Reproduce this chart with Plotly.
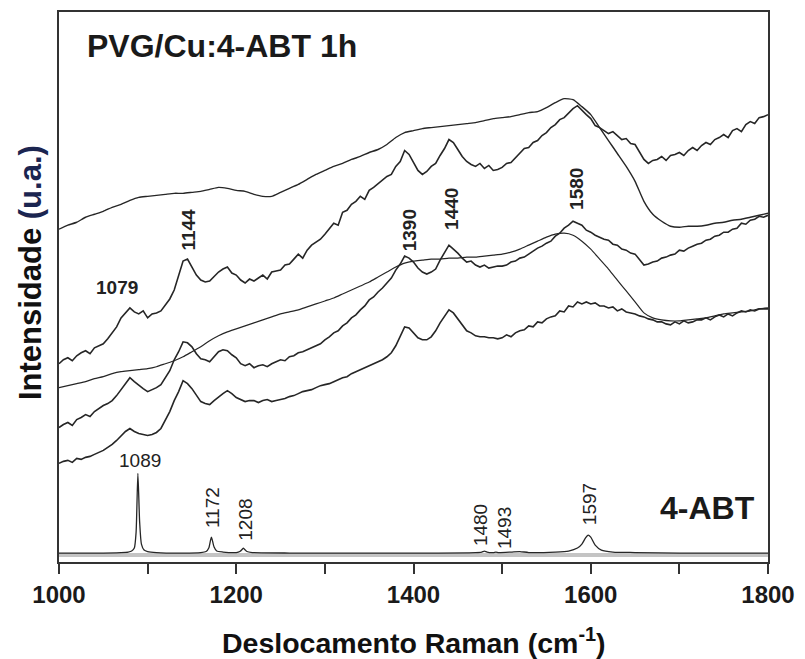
import plotly.graph_objects as go

# Raman shift grids (cm-1)
shift10 = list(range(1000, 1801, 10))
shift5 = list(range(1000, 1801, 5))

# PVG/Cu:4-ABT 1h spectra (arbitrary units, already vertically offset)
spec_a = [334, 338, 341, 346, 349, 352, 356, 359, 363, 366, 367, 368, 369, 370, 370, 371, 372, 374, 376, 375,
          373, 372, 369, 367, 367, 371, 375, 379, 384, 389, 393, 397, 400, 404, 407, 411, 414, 419, 426, 431,
          433, 435, 436, 437, 438, 439, 440, 441, 443, 445, 446, 447, 449, 451, 452, 456, 461, 465, 464, 457,
          449, 436, 423, 410, 397, 382, 362, 349, 342, 337, 336, 337, 337, 338, 340, 341, 343, 344, 346, 348, 350]
spec_b = [199, 203, 205, 202, 207, 210, 212, 209, 215, 217, 219, 224, 230, 236, 245, 250, 255, 251, 249, 252,
          245, 249, 250, 252, 258, 264, 273, 287, 302, 304, 296, 288, 283, 281, 282, 287, 291, 294, 296, 290,
          288, 283, 280, 284, 282, 285, 288, 284, 291, 292, 293, 298, 299, 304, 309, 305, 313, 318, 321, 324,
          329, 335, 340, 338, 351, 353, 359, 362, 367, 364, 373, 376, 380, 383, 387, 389, 397, 402, 413, 409,
          401, 393, 389, 392, 397, 400, 408, 415, 424, 421, 414, 407, 402, 399, 397, 400, 395, 398, 393, 394,
          396, 400, 401, 406, 410, 415, 416, 421, 423, 428, 431, 436, 439, 444, 446, 451, 455, 458, 453, 449,
          445, 438, 436, 433, 430, 432, 428, 424, 425, 420, 419, 411, 404, 400, 403, 404, 407, 403, 408, 409,
          411, 408, 413, 416, 413, 418, 421, 419, 424, 426, 429, 426, 433, 435, 432, 439, 442, 440, 446, 447,
          449]
spec_c = [135, 138, 140, 137, 143, 145, 148, 146, 151, 154, 157, 159, 162, 167, 173, 178, 185, 181, 177, 174,
          171, 173, 175, 178, 185, 192, 203, 211, 221, 220, 216, 209, 204, 203, 201, 206, 211, 213, 212, 208,
          205, 199, 197, 199, 195, 197, 198, 196, 199, 201, 203, 202, 206, 207, 210, 211, 213, 215, 217, 219,
          223, 226, 230, 232, 237, 240, 245, 248, 253, 257, 263, 266, 271, 275, 280, 285, 293, 299, 307, 305,
          301, 295, 291, 289, 291, 294, 303, 310, 318, 314, 310, 305, 301, 302, 298, 296, 298, 295, 296, 297,
          297, 298, 301, 302, 305, 306, 309, 312, 315, 317, 320, 322, 327, 330, 335, 338, 342, 340, 338, 333,
          331, 328, 326, 324, 323, 319, 318, 314, 313, 310, 309, 303, 298, 299, 301, 302, 305, 306, 308, 309,
          313, 312, 315, 317, 319, 320, 323, 324, 327, 328, 331, 331, 334, 335, 340, 339, 343, 344, 347, 346,
          348]
spec_d = [175, 177, 179, 181, 184, 186, 189, 191, 192, 193, 194, 196, 199, 202, 206, 211, 216, 222, 227, 231,
          234, 237, 240, 243, 246, 249, 251, 253, 256, 259, 262, 265, 269, 273, 277, 281, 286, 291, 296, 300,
          302, 303, 304, 304, 305, 305, 306, 306, 307, 308, 309, 311, 314, 318, 322, 326, 329, 330, 328, 322,
          314, 304, 294, 283, 272, 261, 250, 245, 243, 242, 242, 243, 244, 245, 247, 249, 250, 251, 252, 254, 255]
spec_e = [99, 101, 102, 100, 104, 103, 105, 106, 108, 110, 112, 115, 118, 122, 127, 131, 134, 131, 129, 128,
          127, 128, 130, 134, 142, 151, 162, 171, 182, 179, 174, 167, 161, 159, 158, 162, 166, 169, 172, 169,
          165, 163, 161, 162, 162, 160, 162, 163, 161, 162, 163, 164, 166, 167, 169, 171, 172, 173, 175, 177,
          178, 179, 181, 183, 185, 186, 189, 191, 193, 195, 197, 199, 201, 203, 206, 210, 217, 226, 236, 235,
          230, 225, 223, 223, 226, 232, 240, 247, 253, 250, 244, 237, 232, 230, 227, 226, 226, 225, 225, 224,
          225, 228, 226, 230, 232, 233, 237, 236, 241, 240, 244, 246, 247, 252, 251, 257, 256, 261, 259, 261,
          259, 260, 257, 257, 255, 256, 252, 254, 251, 250, 249, 247, 246, 244, 243, 241, 241, 239, 238, 241,
          239, 242, 240, 241, 243, 243, 245, 243, 246, 248, 246, 249, 247, 250, 252, 251, 253, 252, 254, 254,
          254]

# 4-ABT reference spectrum
abt_shift = [1000, 1040, 1070, 1078, 1082, 1085, 1087, 1089, 1091, 1093,
             1096, 1100, 1110, 1140, 1160, 1166, 1169, 1171, 1172, 1173,
             1175, 1178, 1185, 1200, 1204, 1207, 1208, 1209, 1212, 1218,
             1260, 1300, 1400, 1470, 1477, 1480, 1483, 1490, 1493, 1496,
             1510, 1520, 1530, 1560, 1575, 1585, 1590, 1594, 1597, 1600,
             1605, 1612, 1625, 1650, 1700, 1800]
abt_int = [9, 9, 9.5, 10, 11, 14, 30, 89, 40, 18,
           12, 10.5, 9.5, 9, 9.5, 10.5, 14, 22, 25, 22,
           15, 11, 10, 9.5, 10.5, 13, 14, 13, 10.5, 9.5,
           9, 9, 9, 9.5, 10, 11, 10, 9.5, 10, 9.5,
           10, 10.5, 9.5, 10, 11, 14, 18, 24, 27, 25,
           17, 12, 10, 9.5, 9, 9]
abt_base_shift = [1000, 1800]
abt_base = [7, 7]

# peak labels: (text, shift, intensity, rotated, bold)
peak_labels = [
    ("1079", 1065, 276, False, True),
    ("1144", 1146, 334, True, True),
    ("1390", 1395, 333, True, True),
    ("1440", 1443, 354, True, True),
    ("1580", 1584, 374, True, True),
    ("1089", 1091, 102, False, False),
    ("1172", 1172.5, 55, True, False),
    ("1208", 1210.5, 42, True, False),
    ("1480", 1475, 37, True, False),
    ("1493", 1502, 34, True, False),
    ("1597", 1598, 58, True, False),
]

FONT = "Liberation Sans, Arial, sans-serif"
LINE = "#262626"

fig = go.Figure()
fig.add_trace(go.Scatter(x=abt_base_shift, y=abt_base, mode="lines",
                         line=dict(color="#c4c4c4", width=4), hoverinfo="skip"))
fig.add_trace(go.Scatter(x=shift10, y=spec_a, mode="lines",
                         line=dict(color=LINE, width=1.4, shape="spline", smoothing=0.5)))
fig.add_trace(go.Scatter(x=shift10, y=spec_d, mode="lines",
                         line=dict(color=LINE, width=1.2, shape="spline", smoothing=0.6)))
for ys in [spec_b, spec_c, spec_e]:
    fig.add_trace(go.Scatter(x=shift5, y=ys, mode="lines",
                             line=dict(color=LINE, width=1.6)))
fig.add_trace(go.Scatter(x=abt_shift, y=abt_int, mode="lines",
                         line=dict(color=LINE, width=1.3, shape="spline", smoothing=0.6)))

annotations = []
for text, xs, yi, rot, bold in peak_labels:
    annotations.append(dict(x=xs, y=yi, xref="x", yref="y", text=text, showarrow=False,
                            textangle=-90 if rot else 0, xanchor="center", yanchor="middle",
                            font=dict(family=FONT, size=19, color="#222",
                                      weight="bold" if bold else "normal")))
annotations.append(dict(x=1029, y=518, xref="x", yref="y", text="PVG/Cu:4-ABT 1h", showarrow=False,
                        xanchor="left", yanchor="middle",
                        font=dict(family=FONT, size=32, color="#1a1a1a", weight="bold")))
annotations.append(dict(x=1788, y=54, xref="x", yref="y", text="4-ABT", showarrow=False,
                        xanchor="right", yanchor="middle",
                        font=dict(family=FONT, size=32, color="#1a1a1a", weight="bold")))
annotations.append(dict(x=0.501, y=-0.143, xref="paper", yref="paper",
                        text="Deslocamento Raman (cm<sup>-1</sup>)", showarrow=False,
                        xanchor="center", yanchor="middle",
                        font=dict(family=FONT, size=28.5, color="#111", weight="bold")))
annotations.append(dict(x=-0.041, y=0.527, xref="paper", yref="paper",
                        text="Intensidade <span style='color:#1b2550'>(u.a.)</span>", showarrow=False,
                        textangle=-90, xanchor="center", yanchor="middle",
                        font=dict(family=FONT, size=31, color="#111", weight="bold")))

fig.update_layout(
    width=805, height=659,
    margin=dict(l=59, r=32, t=10, b=97),
    paper_bgcolor="white", plot_bgcolor="white",
    showlegend=False,
    annotations=annotations,
    xaxis=dict(range=[1000, 1800], tick0=1000, dtick=200,
               ticks="outside", ticklen=10, tickwidth=1.5, tickcolor="#333",
               minor=dict(dtick=100, ticks="outside", ticklen=10, tickwidth=1.5, tickcolor="#333"),
               showline=True, linecolor="#333", linewidth=1.5, mirror=True,
               showgrid=False, zeroline=False,
               tickfont=dict(family=FONT, size=24, color="#1a1a1a", weight="bold")),
    yaxis=dict(range=[0, 552], showticklabels=False, ticks="",
               showline=True, linecolor="#333", linewidth=1.5, mirror=True,
               showgrid=False, zeroline=False),
)

fig.write_html("out.html")
